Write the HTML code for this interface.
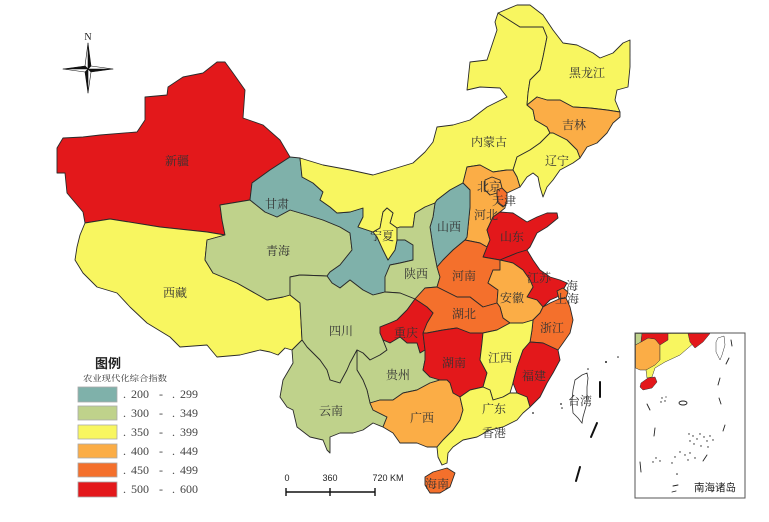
<!DOCTYPE html>
<html><head><meta charset="utf-8"><style>
html,body{margin:0;padding:0;background:#fff;}
svg{display:block;}
.p{stroke:#2a2a2a;stroke-width:0.9;stroke-linejoin:round;}
.g{fill:#bfd28b}.y{fill:#f8f660}.lo{fill:#fbad46}.o{fill:#f4702c}.r{fill:#e3181b}.tl{fill:#7fb1aa}
.lb{font-family:"Liberation Serif","Noto Serif CJK SC","Noto Sans CJK SC",serif;font-size:12px;fill:#333;text-anchor:middle;}
.lg{font-family:"Liberation Serif",serif;font-size:12px;fill:#444;}
</style></head><body>
<svg width="769" height="522" viewBox="0 0 769 522" xmlns="http://www.w3.org/2000/svg">
<rect width="769" height="522" fill="#fff"/>
<!-- Xinjiang -->
<polygon class="p r" points="217,62 225,62 233,73 245,90 243,118 263,125 280,140 290,157 270,170 252,183 250,200 220,205 222,220 225,235 207,232 160,227 110,219 85,223 83,212 67,193 65,173 57,173 57,148 63,138 83,137 100,135 137,132 145,120 145,97 167,95 168,87 183,77 203,73"/>
<!-- Tibet -->
<polygon class="p y" points="85,223 110,219 160,227 207,232 225,235 207,240 205,260 213,273 237,283 267,300 283,297 290,295 300,303 302,340 292,350 285,348 278,355 270,352 260,350 240,355 217,357 207,345 180,347 170,337 147,323 130,307 117,293 97,287 83,273 75,260 77,247 80,235"/>
<!-- Qinghai -->
<polygon class="p g" points="220,205 250,200 265,212 277,217 290,210 307,215 323,220 340,227 350,233 352,250 340,265 330,272 327,276 300,275 290,277 290,295 283,297 267,300 237,283 213,273 205,260 207,240 225,235 222,220"/>
<!-- Gansu -->
<polygon class="p tl" points="290,157 300,158 302,177 313,183 323,192 320,200 330,207 337,213 350,212 363,208 363,217 358,227 373,232 377,237 383,250 388,260 395,250 397,240 405,240 413,245 413,260 400,263 390,265 385,277 385,292 373,295 363,290 350,280 340,288 332,283 327,276 330,272 340,265 352,250 350,233 340,227 323,220 307,215 290,210 277,217 265,212 250,200 252,183 270,170"/>
<!-- Inner Mongolia -->
<polygon class="p y" points="300,158 323,165 350,170 373,175 390,170 413,163 425,152 433,142 437,127 453,125 470,120 487,107 507,97 500,88 480,87 467,90 470,62 487,60 497,30 495,22 498,13 520,27 543,27 547,37 543,57 540,70 530,80 528,93 527,105 533,110 535,120 547,127 550,133 540,143 530,150 517,157 513,170 507,170 493,172 480,165 467,167 463,183 450,190 437,200 435,203 425,207 415,213 413,227 400,227 397,228 390,223 393,213 387,208 383,212 380,228 373,232 358,227 363,217 363,208 350,212 337,213 330,207 320,200 323,192 313,183 302,177"/>
<!-- Heilongjiang -->
<polygon class="p y" points="498,13 505,10 517,5 530,5 543,15 553,30 563,43 577,45 593,53 600,58 613,53 623,43 630,40 630,67 628,87 617,90 615,100 620,112 607,110 590,108 573,107 560,100 547,100 537,97 527,105 528,93 530,80 540,70 543,57 547,37 543,27 520,27"/>
<!-- Jilin -->
<polygon class="p lo" points="527,105 537,97 547,100 560,100 573,107 590,108 607,110 620,112 620,117 613,123 607,133 597,143 587,147 580,158 577,150 567,140 553,133 550,133 547,127 535,120 533,110"/>
<!-- Liaoning -->
<polygon class="p y" points="550,133 553,133 567,140 577,150 580,158 573,163 560,170 553,180 547,187 543,197 540,187 538,177 533,173 527,177 520,187 517,177 513,170 517,157 530,150 540,143"/>
<!-- Hebei -->
<polygon class="p lo" points="463,183 467,167 480,165 493,172 507,170 513,170 517,177 520,187 507,193 505,208 500,212 493,217 487,230 490,240 487,247 480,243 465,240 467,237 470,207 470,190"/>
<!-- Beijing -->
<polygon class="p lo" points="485,180 492,177 500,180 502,188 497,193 490,195 485,190"/>
<!-- Tianjin -->
<polygon class="p o" points="497,190 502,188 507,193 507,203 503,207 498,203 497,196"/>
<!-- Shanxi -->
<polygon class="p tl" points="437,200 450,190 463,183 470,190 470,207 467,237 465,240 453,250 443,260 437,267 433,247 430,227 433,217 435,203"/>
<!-- Ningxia -->
<polygon class="p y" points="387,208 393,213 390,223 397,228 397,240 395,250 388,260 383,250 377,237 373,232 380,228 383,212"/>
<!-- Shaanxi -->
<polygon class="p g" points="397,228 400,227 413,227 415,213 425,207 435,203 433,217 430,227 433,247 437,267 440,277 437,287 425,288 415,299 400,293 385,292 385,277 390,265 400,263 413,260 413,245 405,240 397,240"/>
<!-- Shandong -->
<polygon class="p r" points="483,257 487,247 490,240 487,230 493,217 500,212 513,213 527,222 537,217 547,213 557,213 558,218 547,227 537,233 530,247 527,250 517,253 500,260"/>
<!-- Henan -->
<polygon class="p o" points="437,267 443,260 453,250 465,240 480,243 487,247 483,257 500,260 500,270 493,270 488,283 498,290 497,303 483,307 470,297 457,297 447,292 437,287 440,277"/>
<!-- Jiangsu -->
<polygon class="p r" points="500,260 517,253 527,250 533,260 540,270 550,277 560,280 567,283 563,290 557,297 550,300 543,307 537,300 527,297 533,287 530,280 523,270 513,263"/>
<!-- Shanghai -->
<polygon class="p o" points="557,291 563,288 568,292 566,298 559,299"/>
<!-- Anhui -->
<polygon class="p lo" points="500,260 513,263 523,270 530,280 533,287 527,297 537,300 543,307 540,313 533,320 523,323 510,323 503,318 500,307 497,303 498,290 488,283 493,270 500,270"/>
<!-- Zhejiang -->
<polygon class="p o" points="543,307 550,303 559,299 566,298 570,307 573,320 570,333 563,343 558,350 543,343 530,342 532,330 533,320 540,313"/>
<!-- Hubei -->
<polygon class="p o" points="425,288 437,287 447,292 457,297 470,297 483,307 497,303 500,307 503,318 510,323 497,330 483,333 470,333 457,328 443,330 427,333 423,333 427,323 433,313 427,307 415,299"/>
<!-- Sichuan -->
<polygon class="p g" points="290,277 300,275 327,276 332,283 340,288 350,280 363,290 373,295 385,292 400,293 415,299 407,310 397,320 390,323 380,327 380,333 383,340 387,350 380,355 370,360 363,353 357,350 350,363 347,370 340,383 330,380 327,370 320,360 307,347 302,340 300,303 290,295"/>
<!-- Chongqing -->
<polygon class="p r" points="415,299 427,307 433,313 427,323 423,333 425,350 420,353 417,343 407,343 400,337 390,343 383,340 380,333 380,327 390,323 397,320 407,310"/>
<!-- Guizhou -->
<polygon class="p g" points="357,350 363,353 370,360 380,355 387,350 383,340 390,343 400,337 407,343 417,343 420,353 425,350 425,360 423,370 430,377 440,380 430,383 417,390 403,393 393,400 380,400 370,403 367,390 363,380 357,370"/>
<!-- Yunnan -->
<polygon class="p g" points="292,350 302,340 307,347 320,360 327,370 330,380 340,383 347,370 350,363 357,350 357,370 363,380 367,390 370,403 373,410 387,417 383,427 373,423 363,430 353,433 340,433 330,437 330,453 327,450 323,440 310,437 297,427 293,410 287,407 280,397 283,380 293,363"/>
<!-- Hunan -->
<polygon class="p r" points="423,333 427,333 443,330 457,328 470,333 483,333 482,343 480,360 487,373 483,387 470,390 460,397 453,393 450,383 447,380 440,380 430,377 423,370 425,360 425,350"/>
<!-- Jiangxi -->
<polygon class="p y" points="483,333 497,330 510,323 523,323 533,320 532,330 530,342 523,350 517,367 513,383 510,393 503,397 493,400 490,390 483,387 487,373 480,360 482,343"/>
<!-- Fujian -->
<polygon class="p r" points="530,342 543,343 558,350 560,360 553,373 547,383 540,397 530,407 527,397 517,393 513,383 517,367 523,350"/>
<!-- Guangxi -->
<polygon class="p lo" points="370,403 380,400 393,400 403,393 417,390 430,383 440,380 447,380 450,383 453,393 460,397 463,410 460,420 453,430 443,440 437,447 427,447 417,443 400,443 393,433 383,427 387,417 373,410"/>
<!-- Guangdong -->
<polygon class="p y" points="460,397 470,390 483,387 490,390 493,400 503,397 510,393 517,393 527,397 530,407 523,413 517,420 503,427 490,430 477,437 463,440 453,447 448,453 447,463 442,465 438,457 437,447 443,440 453,430 460,420 463,410"/>
<!-- Hainan -->
<polygon class="p o" points="425,477 433,472 447,468 455,473 450,487 440,493 430,493 425,485"/>
<!-- Taiwan -->
<polygon points="575,380 582,375 587,373 588,378 587,387 587,403 583,417 582,423 578,418 573,413 572,400 573,390" fill="#fff" stroke="#333" stroke-width="0.8"/>
<!-- dashes -->
<g stroke="#111" stroke-width="2" stroke-linecap="round">
<line x1="600" y1="382" x2="600" y2="397"/>
<line x1="597" y1="423" x2="591" y2="437"/>
<line x1="580" y1="467" x2="576" y2="481"/>
</g>
<g fill="#222"><circle cx="606" cy="362" r="1"/><circle cx="618" cy="357" r="0.8"/><circle cx="561" cy="404" r="0.9"/><circle cx="562" cy="408" r="0.8"/><circle cx="588" cy="369" r="0.8"/><circle cx="533" cy="413" r="0.9"/></g>

<!-- Labels -->
<g class="lb">
<text x="587" y="77">黑龙江</text>
<text x="574" y="129">吉林</text>
<text x="489" y="146">内蒙古</text>
<text x="557" y="165">辽宁</text>
<text x="489" y="191">北京</text>
<text x="504" y="205">天津</text>
<text x="486" y="219">河北</text>
<text x="449" y="231">山西</text>
<text x="512" y="241">山东</text>
<text x="382" y="240">宁夏</text>
<text x="277" y="208">甘肃</text>
<text x="177" y="165">新疆</text>
<text x="278" y="255">青海</text>
<text x="175" y="297">西藏</text>
<text x="416" y="278">陕西</text>
<text x="464" y="280">河南</text>
<text x="539" y="282">江苏</text>
<text x="572" y="290">海</text>
<text x="567" y="303">上海</text>
<text x="512" y="302">安徽</text>
<text x="464" y="318">湖北</text>
<text x="552" y="332">浙江</text>
<text x="341" y="335">四川</text>
<text x="406" y="337">重庆</text>
<text x="454" y="367">湖南</text>
<text x="500" y="362">江西</text>
<text x="534" y="380">福建</text>
<text x="398" y="379">贵州</text>
<text x="331" y="415">云南</text>
<text x="422" y="422">广西</text>
<text x="494" y="413">广东</text>
<text x="494" y="437">香港</text>
<text x="580" y="405">台湾</text>
<text x="437" y="488">海南</text>
</g>

<!-- North arrow -->
<text x="88" y="40" font-family="Liberation Serif,serif" font-size="10" text-anchor="middle" fill="#222">N</text>
<g stroke="#111" stroke-width="0.6" stroke-linejoin="round">
<polygon points="88,43 91,66 88,69" fill="#111"/>
<polygon points="88,43 85,66 88,69" fill="#fff"/>
<polygon points="113,69 91,72 88,69" fill="#111"/>
<polygon points="113,69 91,66 88,69" fill="#fff"/>
<polygon points="88,93 85,72 88,69" fill="#111"/>
<polygon points="88,93 91,72 88,69" fill="#fff"/>
<polygon points="63,69 85,66 88,69" fill="#111"/>
<polygon points="63,69 85,72 88,69" fill="#fff"/>
</g>

<!-- Legend -->
<text x="95" y="368" font-family="Liberation Sans,'Noto Sans CJK SC',sans-serif" font-size="13" font-weight="bold" fill="#222">图例</text>
<text x="83" y="381" font-family="Liberation Serif,'Noto Serif CJK SC',serif" font-size="8" fill="#333" textLength="84" lengthAdjust="spacingAndGlyphs">农业现代化综合指数</text>
<g stroke="#aaa" stroke-width="0.8">
<rect x="78" y="387" width="39" height="15" fill="#7fb1aa"/>
<rect x="78" y="406" width="39" height="14" fill="#bfd28b"/>
<rect x="78" y="425" width="39" height="14" fill="#f8f660"/>
<rect x="78" y="444" width="39" height="14" fill="#fbad46"/>
<rect x="78" y="463" width="39" height="14" fill="#f4702c"/>
<rect x="78" y="482" width="39" height="15" fill="#e3181b"/>
</g>
<g class="lg">
<text x="123" y="398">.</text><text x="131" y="398">200</text><text x="159" y="398">-</text><text x="172" y="398">.</text><text x="180" y="398">299</text>
<text x="123" y="417">.</text><text x="131" y="417">300</text><text x="159" y="417">-</text><text x="172" y="417">.</text><text x="180" y="417">349</text>
<text x="123" y="436">.</text><text x="131" y="436">350</text><text x="159" y="436">-</text><text x="172" y="436">.</text><text x="180" y="436">399</text>
<text x="123" y="455">.</text><text x="131" y="455">400</text><text x="159" y="455">-</text><text x="172" y="455">.</text><text x="180" y="455">449</text>
<text x="123" y="474">.</text><text x="131" y="474">450</text><text x="159" y="474">-</text><text x="172" y="474">.</text><text x="180" y="474">499</text>
<text x="123" y="493">.</text><text x="131" y="493">500</text><text x="159" y="493">-</text><text x="172" y="493">.</text><text x="180" y="493">600</text>
</g>

<!-- Scale bar -->
<g font-family="Liberation Sans,sans-serif" font-size="9" fill="#222" text-anchor="middle">
<text x="287" y="481">0</text>
<text x="330" y="481">360</text>
<text x="388" y="481">720 KM</text>
</g>
<g stroke="#111" stroke-width="1.4">
<line x1="286" y1="492" x2="375" y2="492"/>
<line x1="286" y1="488" x2="286" y2="496"/>
<line x1="330" y1="488" x2="330" y2="496"/>
<line x1="375" y1="488" x2="375" y2="496"/>
</g>

<!-- Inset -->
<rect x="635" y="333" width="110" height="165" fill="#fff" stroke="#555" stroke-width="1"/>
<g stroke="#333" stroke-width="0.5">
<polygon points="635.5,333.5 642,333.5 641,342 635.5,345" fill="#bfd28b"/>
<polygon points="635.5,345 641,342 648,338 655,339 660,345 660,362 655,366 648,370 640,370 635.5,368" fill="#fbad46"/>
<polygon points="642,333.5 671,333.5 668,340 660,345 655,339 648,338 641,342" fill="#e3181b"/>
<polygon points="668,333.5 690,333.5 695,342 680,355 665,362 655,368 652,377 647,378 646,370 655,365 660,360 660,345 668,340" fill="#f8f660"/>
<polygon points="688,333.5 710,333.5 703,342 695,348 690,342" fill="#e3181b"/>
<polygon points="641,383 648,378 655,377 657,382 652,388 643,390 640,387" fill="#e3181b"/>
<polygon points="718,338 724,336 725,345 722,355 720,360 716,352 716,342" fill="#fff"/>
</g>
<g stroke="#222" stroke-width="0.9" stroke-linecap="round" fill="none">
<line x1="731" y1="340" x2="732" y2="346"/>
<line x1="729" y1="358" x2="726" y2="364"/>
<line x1="720" y1="378" x2="718" y2="385"/>
<line x1="719" y1="398" x2="721" y2="404"/>
<line x1="647" y1="404" x2="650" y2="410"/>
<line x1="655" y1="428" x2="654" y2="436"/>
<line x1="640" y1="462" x2="641" y2="472"/>
<line x1="725" y1="425" x2="723" y2="431"/>
<line x1="707" y1="455" x2="703" y2="461"/>
<line x1="673" y1="486" x2="678" y2="485"/>
<line x1="676" y1="491" x2="672" y2="492"/>
<ellipse cx="683" cy="403" rx="4" ry="2"/>
</g>
<g fill="#222">
<circle cx="662" cy="398" r="0.7"/><circle cx="665" cy="401" r="0.7"/><circle cx="661" cy="402" r="0.7"/><circle cx="666" cy="397" r="0.6"/>
<circle cx="689" cy="434" r="0.7"/><circle cx="693" cy="436" r="0.7"/><circle cx="697" cy="439" r="0.7"/><circle cx="700" cy="434" r="0.7"/><circle cx="704" cy="437" r="0.7"/><circle cx="707" cy="441" r="0.7"/><circle cx="710" cy="436" r="0.7"/><circle cx="713" cy="440" r="0.7"/><circle cx="690" cy="441" r="0.7"/><circle cx="694" cy="444" r="0.7"/><circle cx="701" cy="446" r="0.7"/><circle cx="708" cy="447" r="0.7"/>
<circle cx="680" cy="452" r="0.7"/><circle cx="685" cy="455" r="0.7"/><circle cx="690" cy="453" r="0.7"/><circle cx="695" cy="458" r="0.7"/><circle cx="688" cy="460" r="0.7"/><circle cx="675" cy="457" r="0.7"/><circle cx="672" cy="463" r="0.7"/>
<circle cx="656" cy="458" r="0.7"/><circle cx="660" cy="461" r="0.7"/><circle cx="653" cy="462" r="0.7"/><circle cx="677" cy="474" r="0.8"/>
</g>
<text x="715" y="491" font-family="Liberation Sans,'Noto Sans CJK SC',sans-serif" font-size="10.5" text-anchor="middle" fill="#222">南海诸岛</text>
</svg>
</body></html>
